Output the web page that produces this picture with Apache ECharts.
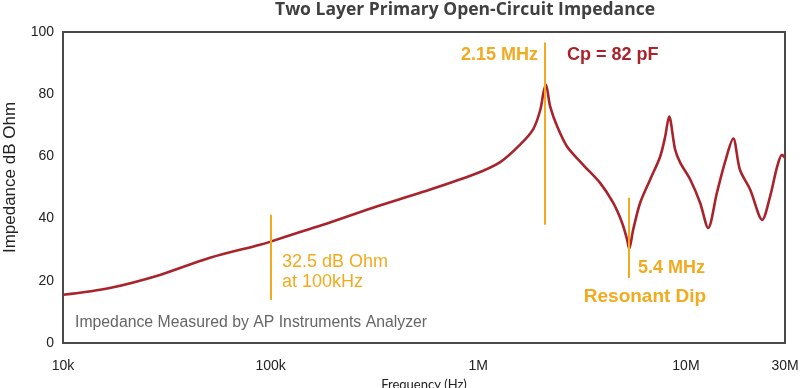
<!DOCTYPE html>
<html>
<head>
<meta charset="utf-8">
<script src="https://cdn.jsdelivr.net/npm/echarts@6/dist/echarts.min.js"></script>
<style>
html,body{margin:0;padding:0;background:#fff;}
#chart{width:800px;height:388px;}
</style>
</head>
<body>
<div id="chart"></div>
<script>
// ---- data ----
var freqHz = [10000, 16800, 29300, 51000, 88900, 100000, 138700, 178800, 311000, 542000,
  944000, 1270000, 1590000, 1840000, 1990000, 2060000, 2115000, 2220000, 2400000, 2680000,
  3200000, 3860000, 4460000, 4930000, 5210000, 5330000, 5570000, 6020000, 6720000, 7510000,
  7940000, 8300000, 8870000, 9380000, 10500000, 11700000, 12800000, 14100000, 15400000, 16900000,
  18200000, 20400000, 23300000, 25400000, 27500000, 29000000, 30000000];
var impedanceDb = [15.5, 17.7, 21.9, 27.4, 31.6, 32.6, 35.7, 38.0, 43.5, 48.6,
  54.1, 58.1, 63.8, 68.8, 75.0, 80.5, 83.1, 76.0, 69.6, 63.1,
  57.3, 51.5, 45.1, 38.6, 33.2, 30.3, 36.4, 45.1, 52.5, 59.9,
  66.3, 72.8, 62.2, 58.0, 52.5, 45.1, 37.0, 48.3, 58.0, 65.7,
  55.7, 49.3, 39.6, 47.0, 56.7, 60.5, 59.6];
var tickFreqs = [10000, 100000, 1000000, 10000000, 30000000];
var tickLabels = ['10k', '100k', '1M', '10M', '30M'];
var yTicks = [0, 20, 40, 60, 80, 100];
// annotation marker lines: frequency, from dB, to dB
var markerFreqs = [100000, 2100000, 5280000];
var markerFrom = [13.8, 38.0, 20.9];
var markerTo = [41.2, 96.6, 46.7];

var ORANGE = '#F2AA1E';
var RED = '#A8232B';

var lg = function (f) { return Math.log10(f); };
var seriesData = freqHz.map(function (f, i) { return [lg(f), impedanceDb[i]]; });
var tickPos = tickFreqs.map(lg);
var markData = markerFreqs.map(function (f, i) {
  return [{ coord: [lg(f), markerFrom[i]] }, { coord: [lg(f), markerTo[i]] }];
});

var chart = echarts.init(document.getElementById('chart'), null, { renderer: 'canvas' });
chart.setOption({
  animation: false,
  backgroundColor: '#fff',
  grid: { left: 63, right: 15, top: 32, bottom: 45, outerBoundsMode: 'none', containLabel: false,
    show: true, borderColor: '#4a4a4a', borderWidth: 2, backgroundColor: 'transparent' },
  xAxis: {
    type: 'value', min: lg(tickFreqs[0]), max: lg(tickFreqs[tickFreqs.length - 1]),
    axisLine: { show: false }, axisTick: { show: false }, splitLine: { show: false },
    axisLabel: {
      customValues: tickPos, margin: 16, color: '#222', fontFamily: 'Liberation Sans', fontSize: 14,
      formatter: function (v) {
        for (var i = 0; i < tickPos.length; i++) { if (Math.abs(tickPos[i] - v) < 1e-6) return tickLabels[i]; }
        return '';
      }
    },
    name: 'Frequency (Hz)', nameLocation: 'middle', nameGap: 30,
    nameTextStyle: { color: '#222', fontFamily: 'Lato', fontSize: 13 }
  },
  yAxis: {
    type: 'value', min: yTicks[0], max: yTicks[yTicks.length - 1], interval: 20,
    axisLine: { show: false }, axisTick: { show: false }, splitLine: { show: false },
    axisLabel: { margin: 9, color: '#222', fontFamily: 'Liberation Sans', fontSize: 14 },
    name: 'Impedance dB Ohm', nameLocation: 'middle', nameGap: 44, nameRotate: 90,
    nameTextStyle: { color: '#222', fontFamily: 'Liberation Sans', fontSize: 17, padding: [0, 0, 0, 20] }
  },
  series: [{
    type: 'line', data: seriesData, showSymbol: false, smooth: 0.3,
    lineStyle: { color: RED, width: 2.6 },
    markLine: {
      silent: true, symbol: ['none', 'none'], label: { show: false },
      lineStyle: { color: ORANGE, width: 2, type: 'solid' },
      data: markData
    }
  }],
  graphic: [
    { type: 'text', x: 465, y: 10, style: { text: 'Two Layer Primary Open-Circuit Impedance', fill: '#404040', font: 'bold 17.5px "Open Sans"', textAlign: 'center', textVerticalAlign: 'middle' } },
    { type: 'text', x: 538, y: 55, style: { text: '2.15 MHz', fill: ORANGE, font: 'bold 18px "Liberation Sans"', textAlign: 'right', textVerticalAlign: 'middle' } },
    { type: 'text', x: 567, y: 55, style: { text: 'Cp = 82 pF', fill: RED, font: 'bold 18px "Liberation Sans"', textAlign: 'left', textVerticalAlign: 'middle' } },
    { type: 'text', x: 638, y: 268, style: { text: '5.4 MHz', fill: ORANGE, font: 'bold 18px "Liberation Sans"', textAlign: 'left', textVerticalAlign: 'middle' } },
    { type: 'text', x: 645, y: 297, style: { text: 'Resonant Dip', fill: ORANGE, font: 'bold 19px "Liberation Sans"', textAlign: 'center', textVerticalAlign: 'middle' } },
    { type: 'text', x: 282, y: 262, style: { text: '32.5 dB Ohm', fill: ORANGE, font: '18px "Liberation Sans"', textAlign: 'left', textVerticalAlign: 'middle' } },
    { type: 'text', x: 282, y: 282, style: { text: 'at 100kHz', fill: ORANGE, font: '18px "Liberation Sans"', textAlign: 'left', textVerticalAlign: 'middle' } },
    { type: 'text', x: 75, y: 323, style: { text: 'Impedance Measured by AP Instruments Analyzer', fill: '#666', font: '15.8px "Liberation Sans"', textAlign: 'left', textVerticalAlign: 'middle' } }
  ]
});
</script>
</body>
</html>
